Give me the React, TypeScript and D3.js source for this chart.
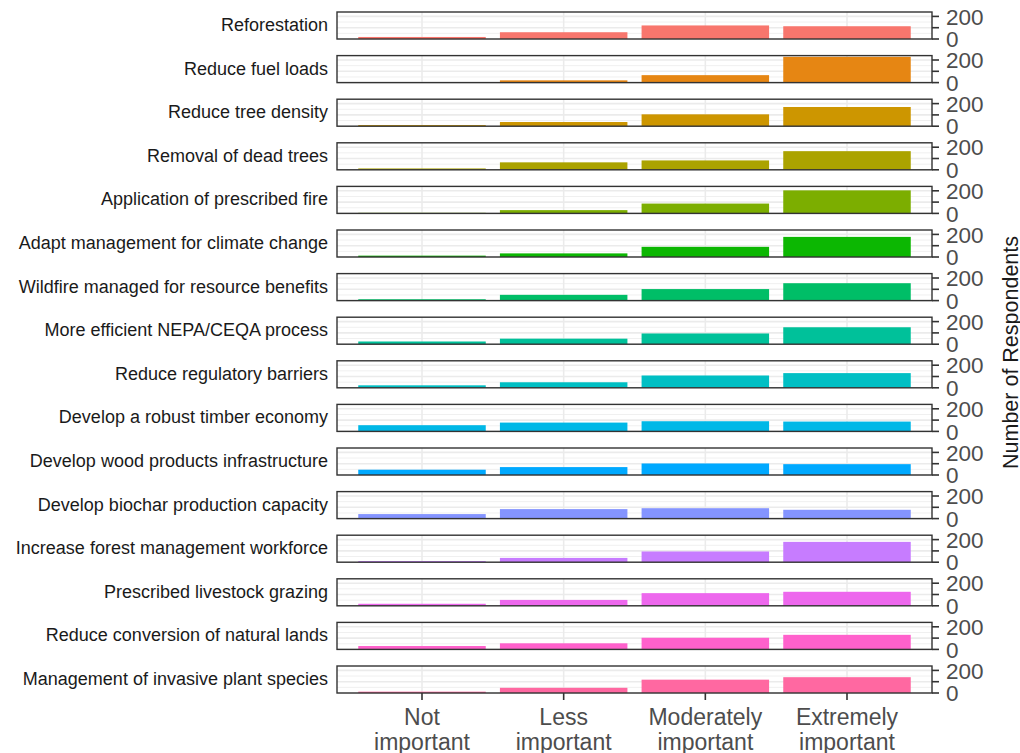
import React from "react";
import * as d3 from "d3";

const categories = ["Not important", "Less important", "Moderately important", "Extremely important"];
const categoryLines = [["Not", "important"], ["Less", "important"], ["Moderately", "important"], ["Extremely", "important"]];

const actions = [
  "Reforestation",
  "Reduce fuel loads",
  "Reduce tree density",
  "Removal of dead trees",
  "Application of prescribed fire",
  "Adapt management for climate change",
  "Wildfire managed for resource benefits",
  "More efficient NEPA/CEQA process",
  "Reduce regulatory barriers",
  "Develop a robust timber economy",
  "Develop wood products infrastructure",
  "Develop biochar production capacity",
  "Increase forest management workforce",
  "Prescribed livestock grazing",
  "Reduce conversion of natural lands",
  "Management of invasive plant species",
];

const notImportant = [18, 2, 10, 12, 5, 12, 12, 24, 22, 55, 47, 40, 10, 18, 30, 12];
const lessImportant = [60, 20, 37, 66, 29, 32, 51, 49, 49, 78, 70, 84, 38, 52, 54, 46];
const moderatelyImportant = [120, 66, 105, 83, 87, 90, 102, 95, 109, 90, 102, 92, 95, 112, 103, 118];
const extremelyImportant = [113, 228, 170, 165, 204, 178, 154, 150, 130, 87, 96, 78, 180, 124, 129, 140];

const colors = [
  "#F8766D", "#E68613", "#CD9600", "#ABA300", "#7CAE00", "#0CB702", "#00BE67", "#00C19A",
  "#00BFC4", "#00B8E7", "#00A9FF", "#8494FF", "#C77CFF", "#ED68ED", "#FF61CC", "#FF68A1",
];

const yMajor = [0, 100, 200];
const yMinor = [50, 150];
const yTickLabels = ["0", "", "200"];
const yAxisTitle = "Number of Respondents";

const W = 1020;
const H = 753;
const panelLeft = 337;
const panelRight = 932;
const firstTop = 12;
const panelH = 27;
const pitch = 43.6;
const yMax = 239;
const font = "'Liberation Sans', Arial, Helvetica, sans-serif";

export default function App() {
  const x = d3
    .scaleBand<string>()
    .domain(categories)
    .range([panelLeft, panelRight])
    .paddingInner(0.1)
    .paddingOuter(0.15);
  const bw = x.bandwidth();
  const center = (c: string) => (x(c) as number) + bw / 2;

  const rows = actions.map((a, i) => ({
    action: a,
    values: [notImportant[i], lessImportant[i], moderatelyImportant[i], extremelyImportant[i]],
    color: colors[i],
  }));

  const lastBottom = firstTop + (actions.length - 1) * pitch + panelH;

  return (
    <svg
      width={W}
      height={H}
      viewBox={`0 0 ${W} ${H}`}
      style={{ position: "absolute", left: 0, top: 0, display: "block", background: "#fff" }}
    >
      <rect x={0} y={0} width={W} height={H} fill="#fff" />
      {rows.map((r, i) => {
        const top = firstTop + i * pitch;
        const bottom = top + panelH;
        const y = d3.scaleLinear().domain([0, yMax]).range([bottom, top]);
        return (
          <g key={r.action}>
            <rect x={panelLeft} y={top} width={panelRight - panelLeft} height={panelH} fill="#fff" />
            {yMinor.map((v) => (
              <line key={"mi" + v} x1={panelLeft} x2={panelRight} y1={y(v)} y2={y(v)} stroke="#F0F0F0" strokeWidth={1} />
            ))}
            {yMajor.map((v) => (
              <line key={"ma" + v} x1={panelLeft} x2={panelRight} y1={y(v)} y2={y(v)} stroke="#EBEBEB" strokeWidth={1.6} />
            ))}
            {categories.map((c) => (
              <line key={"v" + c} x1={center(c)} x2={center(c)} y1={top} y2={bottom} stroke="#EBEBEB" strokeWidth={1.6} />
            ))}
            {categories.map((c, j) => (
              <rect
                key={"b" + c}
                x={x(c)}
                width={bw}
                y={y(r.values[j])}
                height={y(0) - y(r.values[j])}
                fill={r.color}
              />
            ))}
            <rect
              x={panelLeft}
              y={top}
              width={panelRight - panelLeft}
              height={panelH}
              fill="none"
              stroke="#333333"
              strokeWidth={1.4}
            />
            {yMajor.map((v, k) => (
              <g key={"t" + v}>
                <line x1={panelRight} x2={panelRight + 7} y1={y(v)} y2={y(v)} stroke="#333333" strokeWidth={1.6} />
                {yTickLabels[k] && (
                  <text
                    x={panelRight + 14}
                    y={y(v)}
                    dy="0.36em"
                    fontFamily={font}
                    fontSize={22.5}
                    fill="#4D4D4D"
                  >
                    {yTickLabels[k]}
                  </text>
                )}
              </g>
            ))}
            <text
              x={328}
              y={top + panelH / 2}
              dy="0.3em"
              textAnchor="end"
              fontFamily={font}
              fontSize={18}
              fill="#1A1A1A"
            >
              {r.action}
            </text>
          </g>
        );
      })}
      {categories.map((c, j) => (
        <g key={"xa" + c}>
          <line x1={center(c)} x2={center(c)} y1={lastBottom} y2={lastBottom + 7} stroke="#333333" strokeWidth={1.6} />
          {categoryLines[j].map((ln, k) => (
            <text
              key={k}
              x={center(c)}
              y={lastBottom + 32 + k * 25}
              textAnchor="middle"
              fontFamily={font}
              fontSize={23}
              fill="#4D4D4D"
            >
              {ln}
            </text>
          ))}
        </g>
      ))}
      <text
        transform={`translate(1018, ${(firstTop + lastBottom) / 2}) rotate(-90)`}
        textAnchor="middle"
        fontFamily={font}
        fontSize={21.5}
        fill="#1A1A1A"
      >
        {yAxisTitle}
      </text>
    </svg>
  );
}
